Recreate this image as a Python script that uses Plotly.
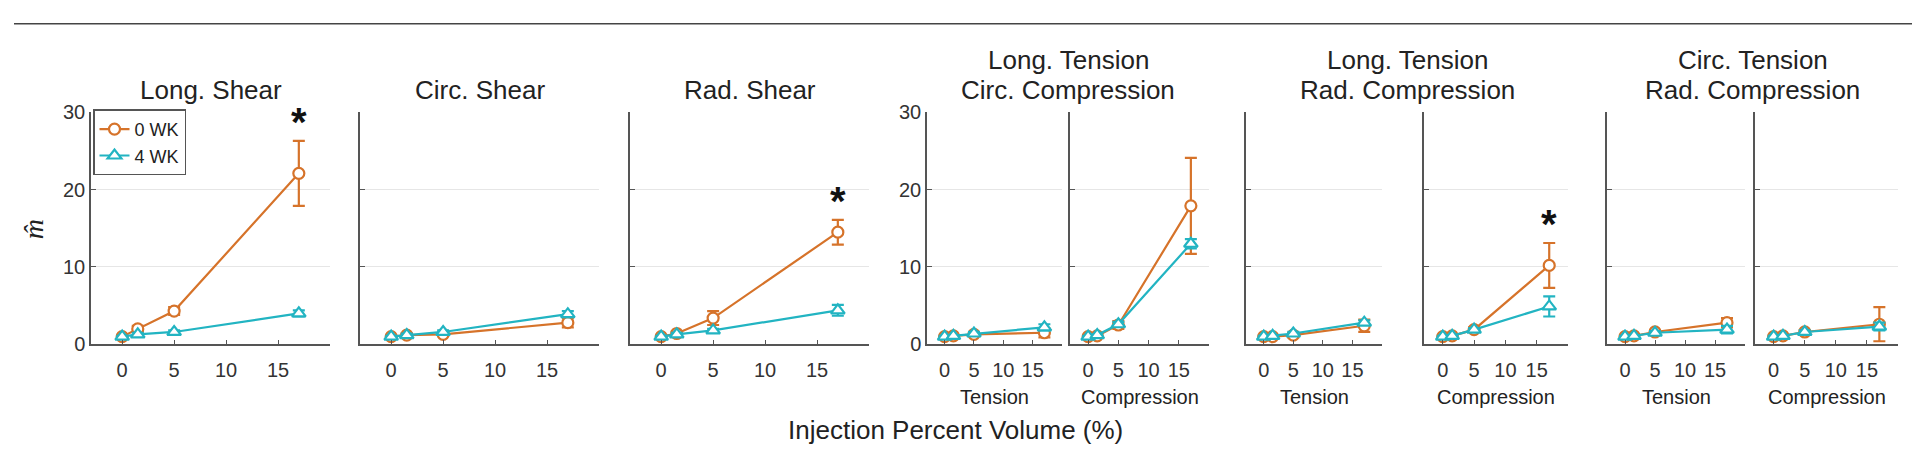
import plotly.graph_objects as go

# ---------------- data ----------------
x_vol = [0, 1.5, 5, 17]

# Long. Shear
ls_0wk = [1.0, 2.0, 4.3, 22.1]
ls_0wk_err = [0.1, 0.4, 0.5, 4.2]
ls_4wk = [1.0, 1.3, 1.6, 4.0]
ls_4wk_err = [0.1, 0.2, 0.2, 0.4]
# Circ. Shear
cs_0wk = [1.0, 1.2, 1.3, 2.8]
cs_0wk_err = [0.1, 0.2, 0.2, 0.6]
cs_4wk = [1.0, 1.2, 1.6, 3.9]
cs_4wk_err = [0.1, 0.2, 0.2, 0.4]
# Rad. Shear
rs_0wk = [1.0, 1.4, 3.4, 14.5]
rs_0wk_err = [0.1, 0.2, 0.9, 1.6]
rs_4wk = [1.0, 1.3, 1.8, 4.4]
rs_4wk_err = [0.1, 0.2, 0.2, 0.7]
# Long. Tension / Circ. Compression - Tension
ltcc_t_0wk = [1.0, 1.1, 1.3, 1.5]
ltcc_t_0wk_err = [0.1, 0.1, 0.2, 0.6]
ltcc_t_4wk = [1.0, 1.1, 1.4, 2.2]
ltcc_t_4wk_err = [0.1, 0.1, 0.2, 0.4]
# Long. Tension / Circ. Compression - Compression
ltcc_c_0wk = [1.0, 1.1, 2.5, 17.9]
ltcc_c_0wk_err = [0.1, 0.1, 0.5, 6.2]
ltcc_c_4wk = [1.0, 1.2, 2.6, 13.0]
ltcc_c_4wk_err = [0.1, 0.1, 0.3, 0.6]
# Long. Tension / Rad. Compression - Tension
ltrc_t_0wk = [1.0, 1.0, 1.2, 2.4]
ltrc_t_0wk_err = [0.1, 0.2, 0.3, 0.8]
ltrc_t_4wk = [1.0, 1.1, 1.4, 2.8]
ltrc_t_4wk_err = [0.1, 0.1, 0.2, 0.3]
# Long. Tension / Rad. Compression - Compression
ltrc_c_0wk = [1.0, 1.1, 1.9, 10.2]
ltrc_c_0wk_err = [0.1, 0.1, 0.3, 2.9]
ltrc_c_4wk = [1.0, 1.1, 1.9, 4.9]
ltrc_c_4wk_err = [0.1, 0.1, 0.2, 1.3]
# Circ. Tension / Rad. Compression - Tension
ctrc_t_0wk = [1.0, 1.1, 1.6, 2.8]
ctrc_t_0wk_err = [0.1, 0.1, 0.2, 0.6]
ctrc_t_4wk = [1.0, 1.1, 1.5, 1.9]
ctrc_t_4wk_err = [0.1, 0.1, 0.2, 0.5]
# Circ. Tension / Rad. Compression - Compression
ctrc_c_0wk = [1.0, 1.1, 1.6, 2.6]
ctrc_c_0wk_err = [0.1, 0.1, 0.2, 2.2]
ctrc_c_4wk = [1.0, 1.1, 1.6, 2.3]
ctrc_c_4wk_err = [0.1, 0.1, 0.2, 0.5]

series_names = ["0 WK", "4 WK"]
x_ticks = [0, 5, 10, 15]
y_ticks = [0, 10, 20, 30]

panel_data = [
    (ls_0wk, ls_0wk_err, ls_4wk, ls_4wk_err),
    (cs_0wk, cs_0wk_err, cs_4wk, cs_4wk_err),
    (rs_0wk, rs_0wk_err, rs_4wk, rs_4wk_err),
    (ltcc_t_0wk, ltcc_t_0wk_err, ltcc_t_4wk, ltcc_t_4wk_err),
    (ltcc_c_0wk, ltcc_c_0wk_err, ltcc_c_4wk, ltcc_c_4wk_err),
    (ltrc_t_0wk, ltrc_t_0wk_err, ltrc_t_4wk, ltrc_t_4wk_err),
    (ltrc_c_0wk, ltrc_c_0wk_err, ltrc_c_4wk, ltrc_c_4wk_err),
    (ctrc_t_0wk, ctrc_t_0wk_err, ctrc_t_4wk, ctrc_t_4wk_err),
    (ctrc_c_0wk, ctrc_c_0wk_err, ctrc_c_4wk, ctrc_c_4wk_err),
]
significant_panels = [0, 2, 6]  # asterisk at the last point

single_titles = ["Long. Shear", "Circ. Shear", "Rad. Shear"]
group_titles = [
    ("Long. Tension", "Circ. Compression"),
    ("Long. Tension", "Rad. Compression"),
    ("Circ. Tension", "Rad. Compression"),
]
sub_labels = ["Tension", "Compression"]
x_title = "Injection Percent Volume (%)"
y_title = "<i>m̂</i>"

# ---------------- style / layout ----------------
W, H = 1920, 452
panel_px = [(83, 322), (352, 591), (622, 861),
            (919, 1054), (1062, 1201),
            (1238, 1374), (1416, 1560),
            (1599, 1737), (1747, 1890)]
y_top_px, y_bot_px = 98, 342
ylabel_panels = [0, 3]
colors = ["#D6732A", "#22B4C2"]
symbols = ["circle", "triangle-up"]
msizes = [11, 12]
FONT = "Liberation Sans, Arial, Helvetica, sans-serif"
AX = "#555555"

fig = go.Figure()
layout = dict(
    width=W, height=H,
    margin=dict(l=0, r=0, t=0, b=0),
    paper_bgcolor="white", plot_bgcolor="white",
    font=dict(family=FONT, color="#222222"),
    showlegend=True,
    legend=dict(x=85 / W, y=1 - 95 / H, xanchor="left", yanchor="top",
                bordercolor=AX, borderwidth=1.5, bgcolor="white",
                font=dict(size=18, family=FONT, color="#222"),
                tracegroupgap=0, itemwidth=30),
)

for i, (x0, x1) in enumerate(panel_px):
    n = i + 1
    layout[f"xaxis{n}"] = dict(
        domain=[x0 / W, x1 / W], range=[-3, 20], anchor=f"y{n}",
        showline=True, linecolor=AX, linewidth=1.5,
        ticks="inside", ticklen=5, tickwidth=1.2, tickcolor=AX,
        tickvals=x_ticks, showgrid=False, zeroline=False,
        tickfont=dict(size=20, color="#333"), ticklabelstandoff=7,
        fixedrange=True,
    )
    layout[f"yaxis{n}"] = dict(
        domain=[1 - y_bot_px / H, 1 - y_top_px / H], range=[0, 30], anchor=f"x{n}",
        showline=True, linecolor=AX, linewidth=1.5,
        ticks="inside", ticklen=5, tickwidth=1.2, tickcolor=AX,
        tickvals=y_ticks, showticklabels=(i in ylabel_panels),
        showgrid=True, gridcolor="#e6e6e6", gridwidth=1, zeroline=False,
        tickfont=dict(size=20, color="#333"),
        fixedrange=True,
    )
    d = panel_data[i]
    for s in range(2):
        yv, ev = d[2 * s], d[2 * s + 1]
        fig.add_trace(go.Scatter(
            x=x_vol, y=yv, xaxis=f"x{n}", yaxis=f"y{n}",
            mode="lines+markers", name=series_names[s],
            legendgroup=series_names[s], showlegend=(i == 0),
            line=dict(color=colors[s], width=2.2),
            marker=dict(symbol=symbols[s], size=msizes[s], color="white",
                        line=dict(color=colors[s], width=2.2)),
            error_y=dict(type="data", array=ev, visible=True,
                         color=colors[s], thickness=2.2, width=6),
        ))

annotations = []
# single titles
for i, t in enumerate(single_titles):
    x0, x1 = panel_px[i]
    annotations.append(dict(text=t, x=(x0 + x1) / 2 / W, y=1 - 75 / H,
                            xref="paper", yref="paper", showarrow=False,
                            xanchor="center", yanchor="middle",
                            font=dict(size=26, family=FONT, color="#222")))
# group titles and sub labels
for g, (l1, l2) in enumerate(group_titles):
    a = 3 + 2 * g
    xa0, _ = panel_px[a]
    _, xb1 = panel_px[a + 1]
    cx = (xa0 + xb1) / 2 / W
    for txt, ypx in ((l1, 43), (l2, 75)):
        annotations.append(dict(text=txt, x=cx, y=1 - ypx / H,
                                xref="paper", yref="paper", showarrow=False,
                                xanchor="center", yanchor="middle",
                                font=dict(size=26, family=FONT, color="#222")))
    for k in range(2):
        p0, p1 = panel_px[a + k]
        annotations.append(dict(text=sub_labels[k], x=(p0 + p1) / 2 / W, y=1 - 397 / H,
                                xref="paper", yref="paper", showarrow=False,
                                xanchor="center", yanchor="middle",
                                font=dict(size=20, family=FONT, color="#222")))
# asterisks
for i in significant_panels:
    d = panel_data[i]
    top = d[0][-1] + d[1][-1]
    annotations.append(dict(text="<b>*</b>", x=x_vol[-1], y=top,
                            xref=f"x{i + 1}", yref=f"y{i + 1}", showarrow=False,
                            xanchor="center", yanchor="bottom", yshift=-5,
                            font=dict(size=40, family=FONT, color="#111")))
# axis titles
annotations.append(dict(text=x_title, x=947 / W, y=1 - 432 / H,
                        xref="paper", yref="paper", showarrow=False,
                        xanchor="center", yanchor="middle",
                        font=dict(size=26, family=FONT, color="#222")))
annotations.append(dict(text=y_title, x=25 / W, y=1 - 221 / H,
                        xref="paper", yref="paper", showarrow=False,
                        xanchor="center", yanchor="middle", textangle=-90,
                        font=dict(size=28, family="Liberation Serif, serif", color="#222")))
layout["annotations"] = annotations
layout["shapes"] = [dict(type="line", xref="paper", yref="paper",
                         x0=6 / W, x1=1, y0=1 - 5 / H, y1=1 - 5 / H,
                         line=dict(color="#444", width=1.5))]

fig.update_layout(**layout)
fig.write_html("out.html", config={"displayModeBar": False})
